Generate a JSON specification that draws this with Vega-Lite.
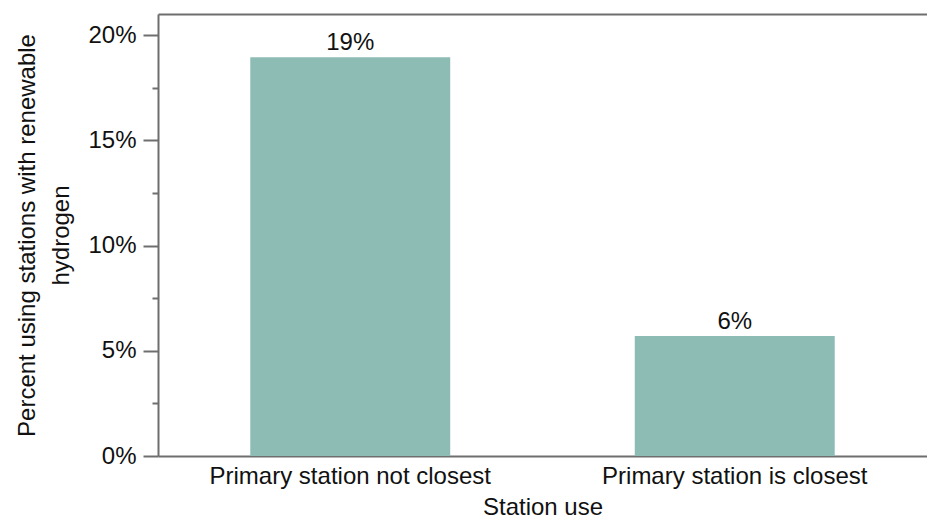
{
  "$schema": "https://vega.github.io/schema/vega-lite/v6.json",
  "width": 769,
  "height": 442,
  "autosize": {"type": "none"},
  "padding": {"left": 158, "top": 14, "right": 0, "bottom": 63},
  "config": {
    "view": {"stroke": null},
    "font": "Liberation Sans",
    "axis": {
      "domainColor": "#6e6e6e",
      "domainWidth": 2,
      "tickColor": "#6e6e6e",
      "tickWidth": 2,
      "labelFont": "Liberation Sans",
      "titleFont": "Liberation Sans",
      "labelFontSize": 24,
      "titleFontSize": 24,
      "labelColor": "#111",
      "titleColor": "#111",
      "titleFontWeight": "normal",
      "labelLimit": 400,
      "grid": false
    }
  },
  "data": {
    "values": [
      {"use": "Primary station not closest", "pct": 18.95, "label": "19%"},
      {"use": "Primary station is closest", "pct": 5.7, "label": "6%"}
    ]
  },
  "encoding": {
    "x": {
      "field": "use",
      "type": "nominal",
      "sort": null,
      "scale": {"paddingInner": 0.48, "paddingOuter": 0.24}
    },
    "y": {
      "field": "pct",
      "type": "quantitative",
      "scale": {"domain": [0, 21], "nice": false, "zero": true},
      "axis": {
        "title": ["Percent using stations with renewable", "hydrogen"],
        "values": [0, 2.5, 5, 7.5, 10, 12.5, 15, 17.5, 20],
        "labelExpr": "datum.value % 5 === 0 ? datum.value + '%' : ''",
        "tickSize": {"condition": {"test": "datum.value % 5 === 0", "value": 15}, "value": 6},
        "labelFontSize": 24,
        "titleFontSize": 24,
        "labelPadding": 7,
        "titlePadding": 14,
        "titleLineHeight": 34
      }
    }
  },
  "layer": [
    {
      "mark": {"type": "bar", "color": "#8dbcb4"},
      "encoding": {
        "x": {
          "field": "use",
          "type": "nominal",
          "sort": null,
          "axis": {
            "title": "Station use",
            "labelAngle": 0,
            "ticks": false,
            "labelFontSize": 24,
            "titleFontSize": 24,
            "labelLimit": 400,
            "labelPadding": 8,
            "titlePadding": 7
          }
        }
      }
    },
    {
      "mark": {"type": "text", "fontSize": 24, "dy": -7, "color": "#111", "baseline": "alphabetic"},
      "encoding": {
        "text": {"field": "label"},
        "x": {
          "field": "use",
          "type": "nominal",
          "sort": null,
          "axis": {"orient": "top", "title": null, "labels": false, "ticks": false}
        }
      }
    }
  ],
  "resolve": {"axis": {"x": "independent"}}
}
